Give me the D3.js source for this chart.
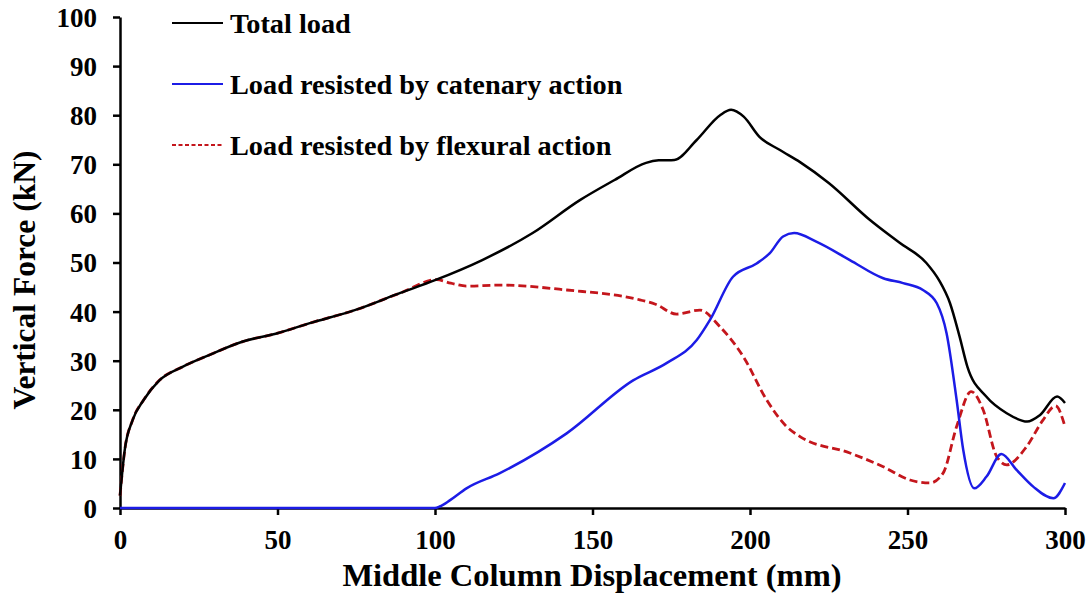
<!DOCTYPE html>
<html>
<head>
<meta charset="utf-8">
<script src="https://cdn.jsdelivr.net/npm/d3@7"></script>
<style>
  html, body { margin: 0; padding: 0; background: #fff; }
  svg text { font-family: "Liberation Serif", "Times New Roman", serif; font-weight: bold; fill: #000; }
</style>
</head>
<body>
<svg id="chart" width="1091" height="606"></svg>
<script>
// Middle column displacement (mm) and vertical force (kN) for each load path
const totalX = [0, 1.5, 4, 7.5, 12.5, 20, 28.5, 39, 50, 60, 75, 89, 100, 115, 131, 146, 157, 167, 171, 176, 183, 190.5, 194, 198, 203, 209.5, 216, 225, 238, 247.5, 256, 260, 263.5, 266.5, 269, 275, 281.5, 288, 292, 297.5, 300];
const totalY = [2.5, 11.8, 17.9, 22, 26, 28.8, 31.2, 33.9, 35.6, 37.6, 40.4, 43.8, 46.4, 50.5, 56, 62.7, 66.8, 70.3, 70.8, 70.9, 74.9, 80, 81.1, 79.7, 75.6, 72.9, 70.4, 66.2, 58.7, 54, 49.9, 46.4, 41.7, 35, 28.8, 22.7, 19.3, 17.6, 18.9, 22.7, 21.4];

const catenaryX = [0, 100, 101.5, 104.8, 110, 120.6, 141.8, 162.9, 173.5, 183.1, 187.3, 194.6, 202.1, 206.3, 210.5, 214, 221.2, 231.7, 242.3, 248.6, 254.9, 259.3, 262.4, 265.6, 267.7, 271.2, 275.1, 279.8, 284.7, 290, 296.3, 300];
const catenaryY = [0, 0, 0.3, 1.6, 4, 7.1, 15.2, 26, 29.5, 34.2, 38.3, 47.1, 49.8, 51.9, 55.3, 56, 54.2, 50.5, 46.8, 45.8, 44.4, 41.7, 35.6, 22, 11.8, 4.0, 6.4, 11, 7.7, 4.3, 2.0, 5.1];

const flexuralX = [0, 1.5, 4, 7.5, 12.5, 20, 28.5, 39, 50, 60, 75, 89, 100.5, 105, 110, 120.6, 141.8, 165, 170, 176.7, 184.1, 190.5, 197.9, 205.3, 211.6, 216, 231.7, 242.3, 250.8, 257.1, 261.3, 265.6, 270.2, 274, 278.3, 281.5, 287.8, 293, 297, 300];
const flexuralY = [2.5, 11.8, 17.9, 22, 26, 28.8, 31.2, 33.9, 35.6, 37.6, 40.4, 43.8, 46.5, 45.8, 45.2, 45.4, 44.4, 42.4, 41.5, 39.5, 40.3, 36.9, 30.8, 22, 16.6, 14.5, 11.2, 8.4, 5.7, 5.1, 7.1, 16.6, 23.7, 20, 10.5, 8.8, 12.5, 17.9, 20.8, 16.6];

const xTicks = [0, 50, 100, 150, 200, 250, 300];
const yTicks = [0, 10, 20, 30, 40, 50, 60, 70, 80, 90, 100];

const legendLabels = ["Total load", "Load resisted by catenary action", "Load resisted by flexural action"];
const xTitle = "Middle Column Displacement (mm)";
const yTitle = "Vertical Force (kN)";

const svg = d3.select("#chart");
const plot = { left: 120, right: 1065, top: 17, bottom: 508 };

const x = d3.scaleLinear().domain([0, 300]).range([plot.left, plot.right]);
const y = d3.scaleLinear().domain([0, 100]).range([plot.bottom, plot.top]);

// Axes
const xAxis = svg.append("g")
  .attr("transform", `translate(0,${plot.bottom})`)
  .call(d3.axisBottom(x).tickValues(xTicks).tickSize(7).tickSizeOuter(0).tickPadding(10));
const yAxis = svg.append("g")
  .attr("transform", `translate(${plot.left},0)`)
  .call(d3.axisLeft(y).tickValues(yTicks).tickSize(7).tickSizeOuter(0).tickPadding(16));

[xAxis, yAxis].forEach(g => {
  g.select(".domain").attr("stroke", "#000").attr("stroke-width", 2.5);
  g.selectAll(".tick line").attr("stroke", "#000").attr("stroke-width", 2.5);
  g.selectAll(".tick text")
    .style("font-family", "'Liberation Serif', 'Times New Roman', serif")
    .style("font-weight", "bold")
    .style("font-size", "27px")
    .attr("fill", "#000");
});
xAxis.selectAll(".tick text").attr("dy", "0.9em");
yAxis.selectAll(".tick text").attr("dy", "0.35em");

// Axis titles
svg.append("text")
  .attr("x", 592)
  .attr("y", 586)
  .attr("text-anchor", "middle")
  .style("font-size", "32.5px")
  .text(xTitle);

svg.append("text")
  .attr("transform", `translate(35,280) rotate(-90)`)
  .attr("text-anchor", "middle")
  .style("font-size", "31.5px")
  .text(yTitle);

// Series
const series = [
  { xs: totalX, ys: totalY, color: "#000000", width: 2.5, dash: null, legendDash: null },
  { xs: catenaryX, ys: catenaryY, color: "#1c1ce6", width: 2.5, dash: null, legendDash: null },
  { xs: flexuralX, ys: flexuralY, color: "#c4161c", width: 2.8, dash: "8,4", legendDash: "4,2.5" }
];

const line = d3.line()
  .x(d => x(d[0]))
  .y(d => y(d[1]))
  .curve(d3.curveMonotoneX);

// Draw flexural first so the total load line sits on top where they overlap
[2, 1, 0].forEach(i => {
  const s = series[i];
  svg.append("path")
    .datum(d3.zip(s.xs, s.ys))
    .attr("fill", "none")
    .attr("stroke", s.color)
    .attr("stroke-width", s.width)
    .attr("stroke-dasharray", s.dash)
    .attr("stroke-linejoin", "round")
    .attr("d", line);
});

// Legend
const legend = svg.append("g");
legendLabels.forEach((label, i) => {
  const s = series[i];
  const ly = 23 + i * 61;
  legend.append("line")
    .attr("x1", 172).attr("x2", 223)
    .attr("y1", ly).attr("y2", ly)
    .attr("stroke", s.color)
    .attr("stroke-width", 2)
    .attr("stroke-dasharray", s.legendDash);
  legend.append("text")
    .attr("x", 230)
    .attr("y", ly)
    .attr("dy", "0.35em")
    .style("font-size", "28.3px")
    .text(label);
});
</script>
</body>
</html>
